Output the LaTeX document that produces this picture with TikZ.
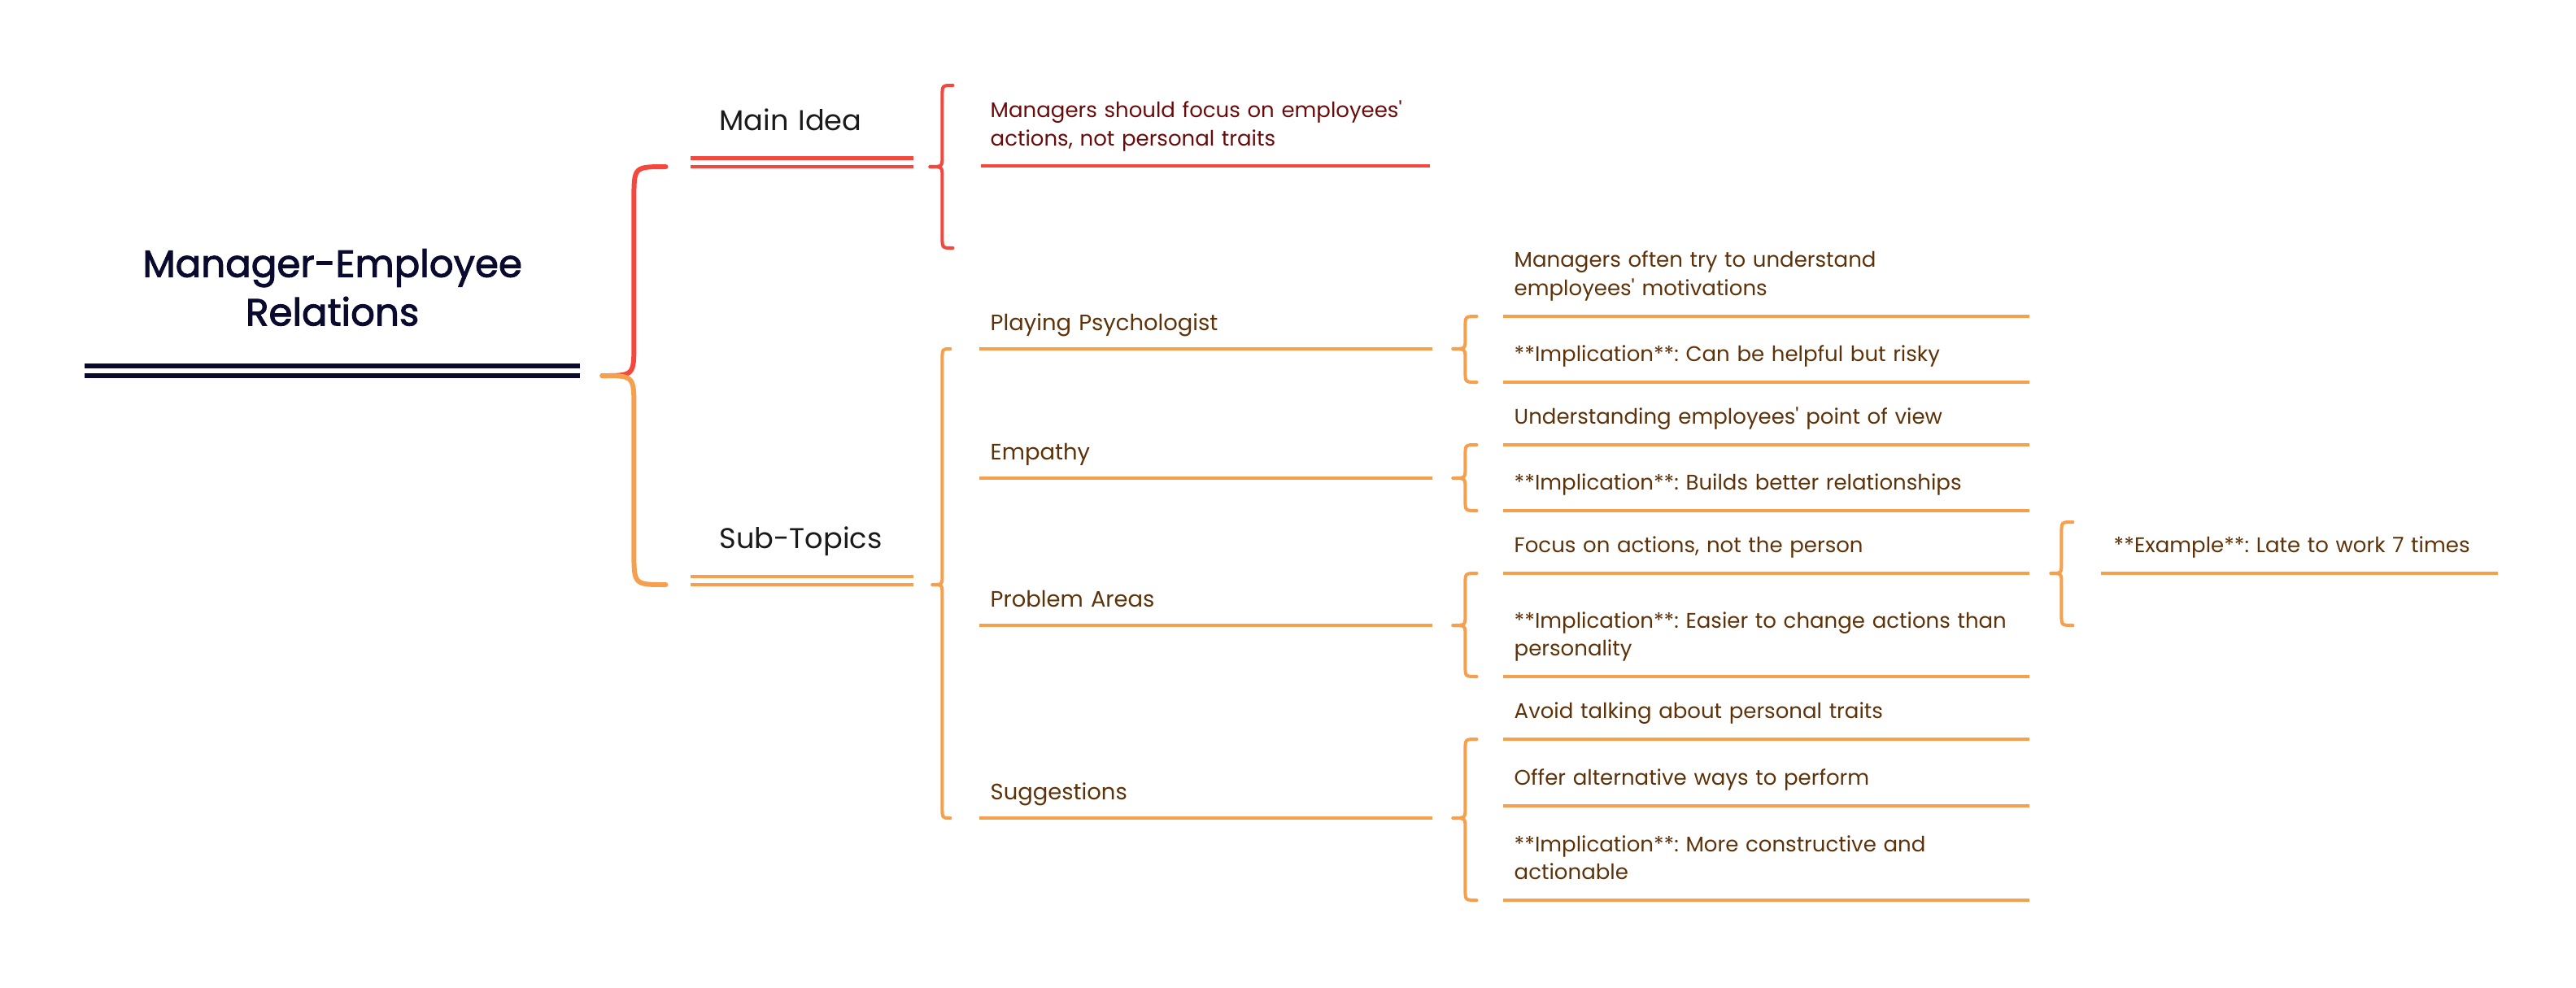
\documentclass[tikz,border=0pt]{standalone}
\usepackage{fontspec}
\setmainfont{Poppins}[Ligatures=TeXOff]
\newfontfamily\rootfamily{Poppins}[Ligatures=TeXOff, BoldFont=Poppins, BoldFeatures={FakeBold=2}]
\usetikzlibrary{calc}
\definecolor{RootNavy}{HTML}{0A0A2E}
\definecolor{IdeaRed}{HTML}{F4473D}
\definecolor{IdeaText}{HTML}{6A0B0B}
\definecolor{TopicOrange}{HTML}{F6A04D}
\definecolor{TopicText}{HTML}{5E3208}
\definecolor{BranchText}{HTML}{1A1A1A}
\newcommand{\rootfont}{\fontsize{13.3}{17}\selectfont\rootfamily\bfseries}
\newcommand{\branchfont}{\fontsize{10}{13}\selectfont}
\newcommand{\topicfont}{\fontsize{7.8}{10}\selectfont}
\newcommand{\leaffont}{\fontsize{7.4}{9.7}\selectfont}
% half of a curly brace: tip, end reference, offset of the stem, end offset, radius
\newcommand{\halfbrace}[6][]{%
  \draw[brace,#1] let \p1=(#2), \p2=(#3) in
    (\x1,\y1) .. controls (\x1+#4,\y1) .. (\x1+#4,{\y1+(#6)})
    -- (\x1+#4,{\y2-(#6)}) .. controls (\x1+#4,\y2) .. (\x1+#5,\y2);}
\frenchspacing

\begin{document}
\begin{tikzpicture}[
    rootbox/.style={anchor=south west, text width=5.8cm, inner xsep=1.4mm,
                    inner ysep=4.3mm, align=center, font=\rootfont, text=RootNavy,
                    execute at end node=\strut},
    branch/.style={anchor=south west, text width=2.03cm, inner xsep=3.5mm,
                   inner ysep=3mm, align=left, font=\branchfont, text=BranchText,
                   execute at end node=\strut},
    topic/.style={anchor=south west, text width=5.30cm, inner xsep=1.3mm,
                  inner ysep=1.15mm, align=left, font=\topicfont, text=TopicText,
                  execute at end node=\strut},
    leaf/.style={anchor=south west, text width=6.20cm, inner xsep=1.3mm,
                 inner ysep=1.5mm, align=left, font=\leaffont, text=TopicText,
                 execute at end node=\strut},
    rootline/.style={RootNavy, line width=1.7pt},
    redline/.style={IdeaRed, line width=1.15pt},
    orangeline/.style={TopicOrange, line width=1.15pt},
    brace/.style={TopicOrange, line width=1.15pt, line cap=round},
  ]
    \useasboundingbox (0,0) rectangle (31.67,-12.14);

    % root
    \node[rootbox] (root) at (1.04,-4.62) {Manager-Employee\\Relations};
    \draw[rootline] (root.south west) -- (root.south east)
      ([yshift=1.2mm]root.south west) -- ([yshift=1.2mm]root.south east);

    % first level
    \node[branch] (main) at (8.49,-2.05) {\mbox{Main Idea}};
    \node[branch] (sub)  at (8.49,-7.19) {\mbox{Sub-Topics}};
    \draw[redline] (main.south west) -- (main.south east)
      ([yshift=1.05mm]main.south west) -- ([yshift=1.05mm]main.south east);
    \draw[orangeline] (sub.south west) -- (sub.south east)
      ([yshift=1.05mm]sub.south west) -- ([yshift=1.05mm]sub.south east);

    % main idea
    \node[leaf, text=IdeaText, text width=5.29cm, inner xsep=1.1mm, inner ysep=1.4mm]
      (mainleaf) at (12.06,-2.04) {Managers should focus on employees'\\actions, not personal traits};
    \draw[redline] (mainleaf.south west) -- (mainleaf.south east);

    % sub-topics
    \node[topic] (psy)  at (12.04,-4.29)  {Playing Psychologist};
    \node[topic] (emp)  at (12.04,-5.88)  {Empathy};
    \node[topic] (prob) at (12.04,-7.69)  {Problem Areas};
    \node[topic] (sugg) at (12.04,-10.06) {Suggestions};

    % details
    \node[leaf] (psy1)  at (18.48,-3.89)  {Managers often try to understand\\employees' motivations};
    \node[leaf] (psy2)  at (18.48,-4.70)  {**Implication**: Can be helpful but risky};
    \node[leaf] (emp1)  at (18.48,-5.47)  {Understanding employees' point of view};
    \node[leaf] (emp2)  at (18.48,-6.28)  {**Implication**: Builds better relationships};
    \node[leaf] (prob1) at (18.48,-7.05)  {Focus on actions, not the person};
    \node[leaf] (prob2) at (18.48,-8.32)  {**Implication**: Easier to change actions than\\personality};
    \node[leaf] (sugg1) at (18.48,-9.09)  {Avoid talking about personal traits};
    \node[leaf] (sugg2) at (18.48,-9.91)  {Offer alternative ways to perform};
    \node[leaf] (sugg3) at (18.48,-11.07) {**Implication**: More constructive and\\actionable};
    \node[leaf, text width=4.57cm, inner xsep=1.5mm] (ex) at (25.83,-7.05) {**Example**: Late to work 7 times};

    \foreach \n in {psy,emp,prob,sugg,psy1,psy2,emp1,emp2,prob1,prob2,sugg1,sugg2,sugg3,ex}
      \draw[orangeline] (\n.south west) -- (\n.south east);

    % braces
    \coordinate (rootT) at ([xshift=2.7mm]root.south east);
    \halfbrace[IdeaRed, line width=1.7pt]{rootT}{main.south}{0.39cm}{0.78cm}{0.4cm}
    \halfbrace[line width=1.7pt]{rootT}{sub.south}{0.39cm}{0.78cm}{-0.4cm}

    \coordinate (mainT) at ([xshift=2mm]main.south east);
    \halfbrace[IdeaRed]{mainT}{[yshift=9.9mm]mainleaf.south}{0.15cm}{0.28cm}{0.13cm}
    \halfbrace[IdeaRed]{mainT}{[yshift=-10.1mm]mainleaf.south}{0.15cm}{0.28cm}{-0.13cm}

    \coordinate (subT) at ([xshift=2.3mm]sub.south east);
    \halfbrace{subT}{psy.south}{0.12cm}{0.22cm}{0.13cm}
    \halfbrace{subT}{sugg.south}{0.12cm}{0.22cm}{-0.13cm}

    \coordinate (psyT) at ([xshift=2.5mm]psy.south east);
    \halfbrace{psyT}{psy1.south}{0.15cm}{0.29cm}{0.13cm}
    \halfbrace{psyT}{psy2.south}{0.15cm}{0.29cm}{-0.13cm}

    \coordinate (empT) at ([xshift=2.5mm]emp.south east);
    \halfbrace{empT}{emp1.south}{0.15cm}{0.29cm}{0.13cm}
    \halfbrace{empT}{emp2.south}{0.15cm}{0.29cm}{-0.13cm}

    \coordinate (probT) at ([xshift=2.5mm]prob.south east);
    \halfbrace{probT}{prob1.south}{0.15cm}{0.29cm}{0.13cm}
    \halfbrace{probT}{prob2.south}{0.15cm}{0.29cm}{-0.13cm}

    \coordinate (suggT) at ([xshift=2.5mm]sugg.south east);
    \halfbrace{suggT}{sugg1.south}{0.15cm}{0.29cm}{0.13cm}
    \halfbrace{suggT}{sugg3.south}{0.15cm}{0.29cm}{-0.13cm}

    \coordinate (exT) at ([xshift=2.6mm]prob1.south east);
    \halfbrace{exT}{[yshift=6.3mm]ex.south}{0.13cm}{0.27cm}{0.13cm}
    \halfbrace{exT}{[yshift=-6.4mm]ex.south}{0.13cm}{0.27cm}{-0.13cm}
  \end{tikzpicture}
\end{document}
